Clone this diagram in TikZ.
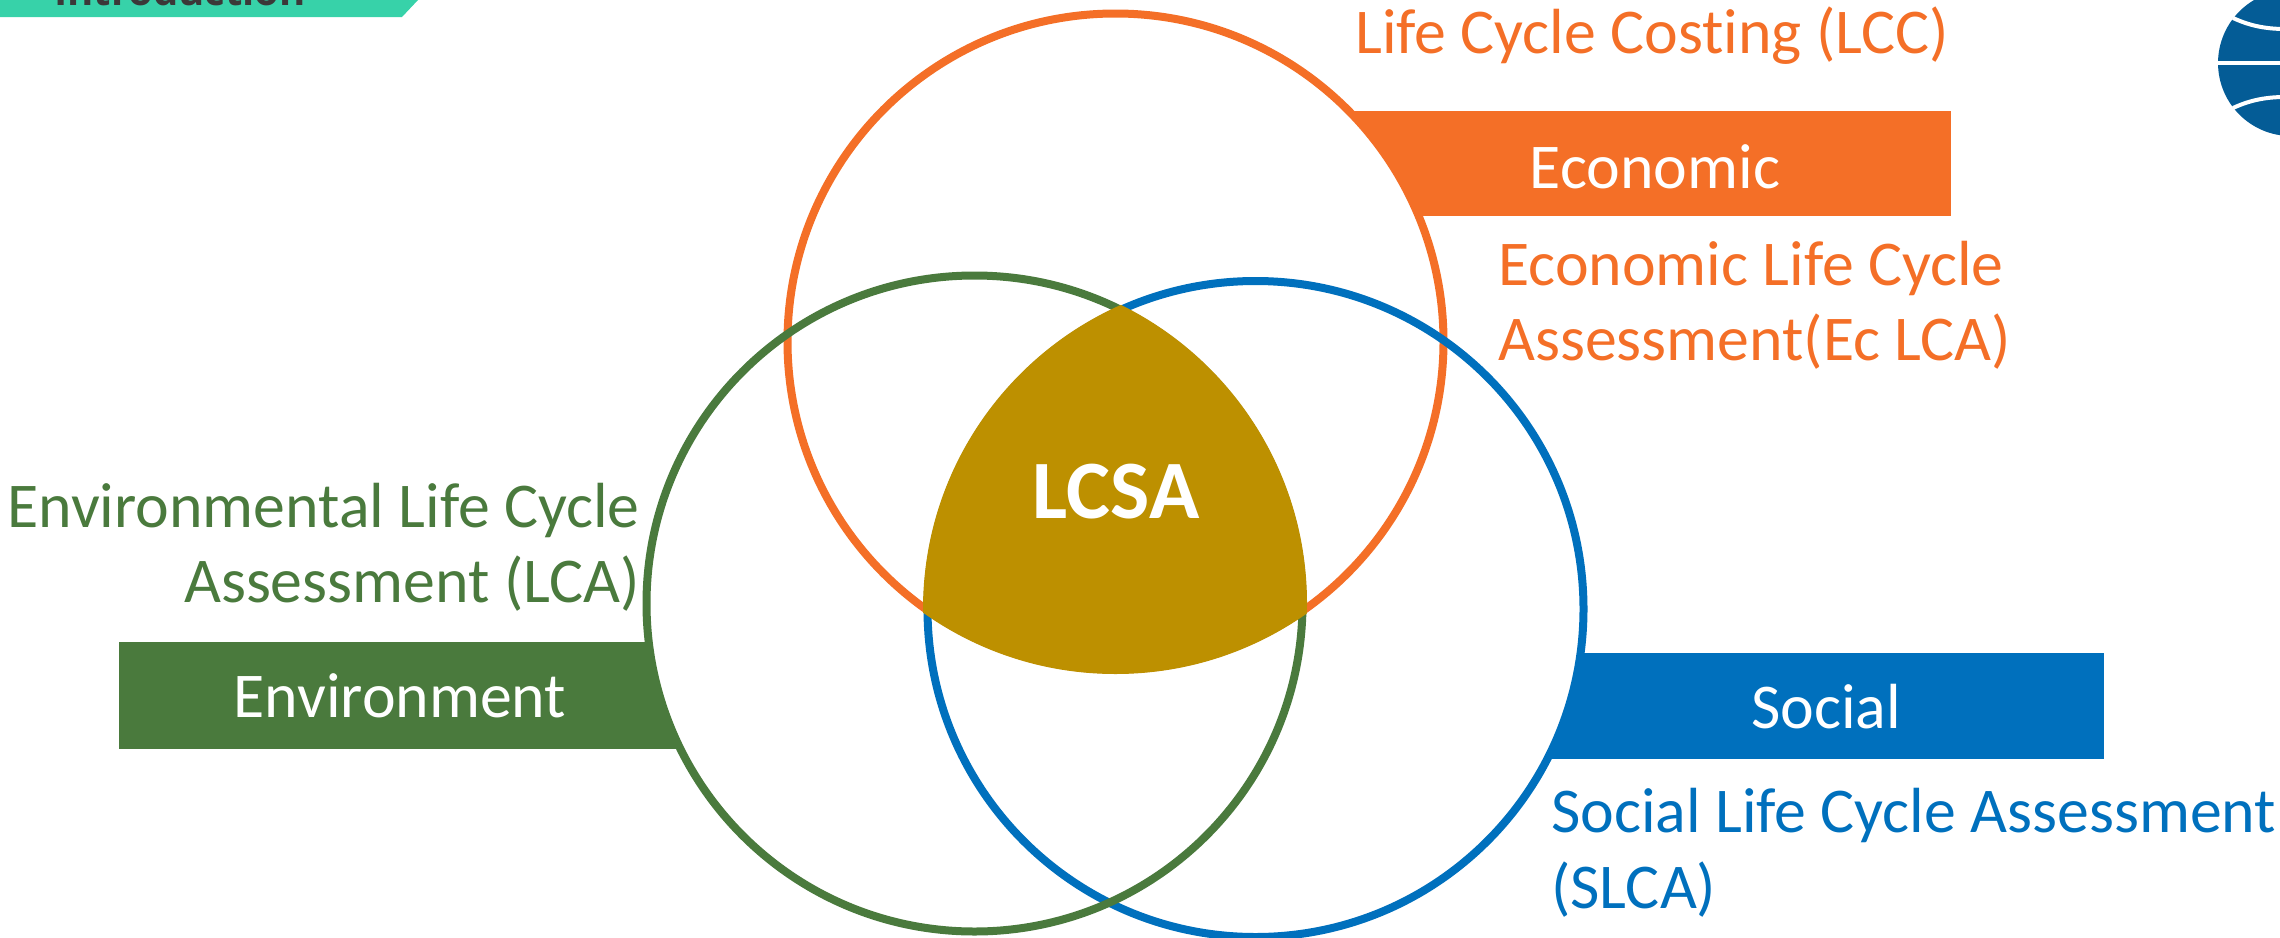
\documentclass[tikz,border=0pt]{standalone}
\usepackage{fontspec}
\setmainfont[Ligatures=NoCommon]{Carlito}
\newfontfamily\headfont{Open Sans}
\definecolor{cOrange}{HTML}{F46F27}
\definecolor{cGreen}{HTML}{4A7A3D}
\definecolor{cBlue}{HTML}{0070BD}
\definecolor{cGold}{HTML}{BD9000}
\definecolor{cTeal}{HTML}{37D2A9}
\definecolor{cHead}{HTML}{3B3838}
\definecolor{cLogo}{HTML}{045C96}
\tikzset{
  lbl/.style={inner sep=0pt,font=\fontsize{63.8}{66}\selectfont},
  bartxt/.style={lbl,text=white,anchor=base},
  ring/.style={line width=8pt},
}
\begin{document}
\begin{tikzpicture}[x=1pt,y=-1pt]
\useasboundingbox (0,0) rectangle (2280,937);
% header
\fill[cTeal] (0,0) -- (418,0) -- (402,17) -- (0,17) -- cycle;
\node[inner sep=0pt,anchor=base west,text=cHead,font=\headfont\bfseries\fontsize{40}{44}\selectfont] (head) at (54,5) {Introduction};
% logo
\begin{scope}
\clip (0,0) rectangle (2280,937);
\fill[cLogo] (2291,63) circle (73);
\draw[white,line width=4pt] (2215,63) -- (2280,63);
\draw[white,line width=4pt] (2233,18) .. controls (2248,25) and (2264,29) .. (2285,29);
\draw[white,line width=4pt] (2233,108) .. controls (2248,101) and (2264,97) .. (2285,97);
\end{scope}
% bars
\fill[cOrange] (1340,110.5) rectangle (1951,216);
\fill[cGreen] (119,642) rectangle (680,749);
\fill[cBlue] (1500,653) rectangle (2104,759);
% circles
\fill[white] (1115.5,341.5) circle (328);
\fill[white] (974.5,603.5) circle (328);
\fill[white] (1255.5,609) circle (328);
\draw[ring,cOrange] (1115.5,341.5) circle (328);
\draw[ring,cBlue] (1255.5,609) circle (328);
\draw[ring,cGreen] (974.5,603.5) circle (328);
% intersection
\begin{scope}
\clip (1115.5,341.5) circle (332.5);
\clip (974.5,603.5) circle (332.5);
\fill[cGold] (1255.5,609) circle (332.5);
\end{scope}
% labels
\node[lbl,anchor=base west,text=cOrange] (lcc) at (1355,53) {Life Cycle Costing (LCC)};
\node[bartxt] (eco) at (1655,188) {Economic};
\node[lbl,anchor=base west,text=cOrange] (ec1) at (1498,285) {Economic Life Cycle};
\node[lbl,anchor=base west,text=cOrange] (ec2) at (1498,360) {Assessment(Ec LCA)};
\node[lbl,anchor=base east,text=cGreen] (en1) at (640,527) {Environmental Life Cycle};
\node[lbl,anchor=base east,text=cGreen] (en2) at (640,602) {Assessment (LCA)};
\node[bartxt] (env) at (400,717) {Environment};
\node[bartxt] (soc) at (1826,728) {Social};
\node[lbl,anchor=base west,text=cBlue] (so1) at (1551,832) {Social Life Cycle Assessment};
\node[lbl,anchor=base west,text=cBlue] (so2) at (1551,908) {(SLCA)};
\node[inner sep=0pt,anchor=base,text=white,font=\bfseries\fontsize{83}{83}\selectfont] (lcsa) at (1116,518) {LCSA};
\end{tikzpicture}
\end{document}
